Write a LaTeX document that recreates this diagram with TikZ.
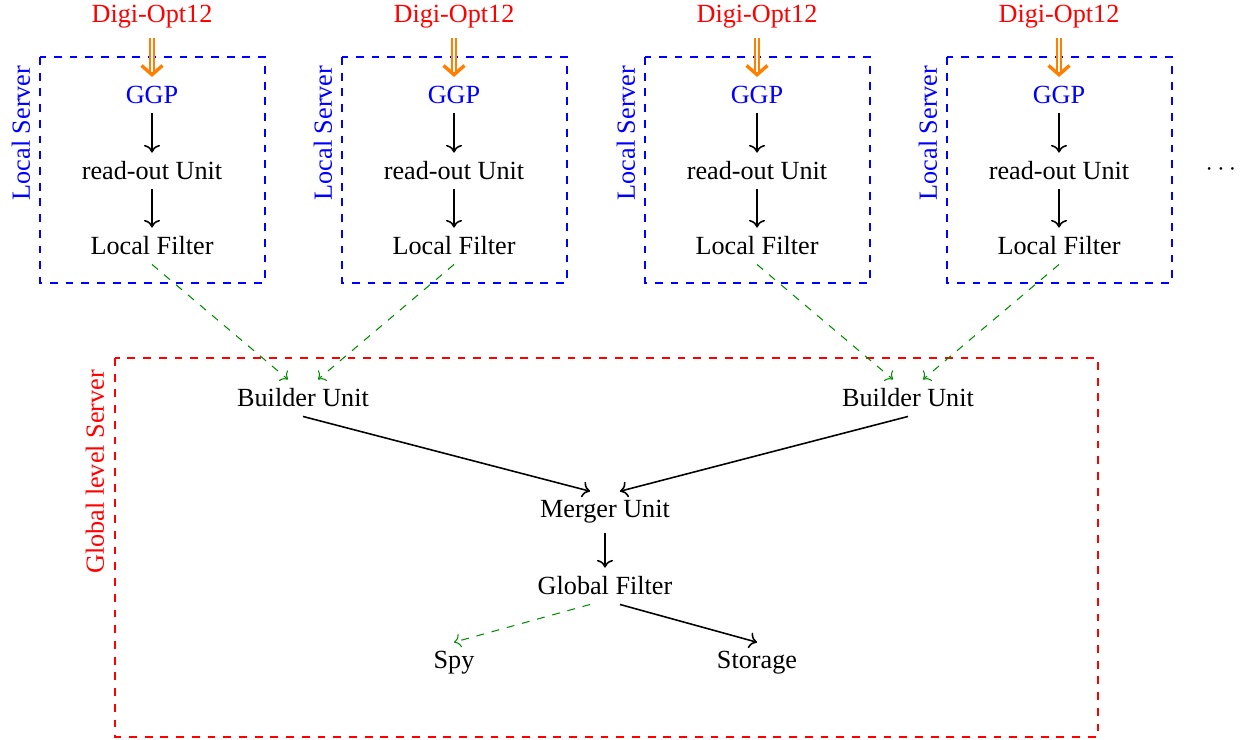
\documentclass[tikz,border=0pt]{standalone}
\usepackage{fontspec}
\setmainfont{Liberation Serif}
\usetikzlibrary{arrows.meta}
\begin{document}
\begin{tikzpicture}[x=0.3817pt,y=-0.3817pt,
  lbl/.style={inner sep=3.33pt},
  flow/.style={->,semithick},
  soft/.style={->,dashed,green!55!black},
  feed/.style={draw=orange,double=white,double distance=1.1pt,line width=0.55pt,
    -{Straight Barb[length=3.5pt,width=8pt,line width=1.3pt]}},
  localbox/.style={draw=blue,dashed},
  globalbox/.style={draw=red,dashed}]
\useasboundingbox (0,0) rectangle (1254,740);
\foreach \i/\x in {1/152,2/454,3/757,4/1059}{
  \node[lbl,text=red] (dig\i) at (\x,17) {Digi-Opt12};
  \node[lbl,text=blue] (ggp\i) at (\x,95) {GGP};
  \node[lbl] (ro\i) at (\x,171) {read-out Unit};
  \node[lbl] (lf\i) at (\x,246) {Local Filter};
  \draw[localbox] (\x-112,57) rectangle (\x+113,283);
  \node[lbl,text=blue,rotate=90] (ls\i) at (\x-131,133) {Local Server};
  \draw[feed] (dig\i.south) -- (ggp\i.north);
  \draw[flow] (ggp\i) -- (ro\i);
  \draw[flow] (ro\i) -- (lf\i);
}
\node[lbl] (dots) at (1221,170) {$\cdots$};
\draw[globalbox] (115,358) rectangle (1098,737);
\node[lbl,text=red,rotate=90] (gls) at (95,472) {Global level Server};
\node[lbl] (bu1) at (303,398) {Builder Unit};
\node[lbl] (bu2) at (908,398) {Builder Unit};
\node[lbl] (mu) at (605,512) {Merger Unit};
\node[lbl] (gf) at (605,586) {Global Filter};
\node[lbl] (spy) at (454,663) {Spy};
\node[lbl] (st) at (757,663) {Storage};
\draw[soft] (lf1.south) -- ([xshift=-5.7pt]bu1.north);
\draw[soft] (lf2.south) -- ([xshift=5.7pt]bu1.north);
\draw[soft] (lf3.south) -- ([xshift=-5.7pt]bu2.north);
\draw[soft] (lf4.south) -- ([xshift=5.7pt]bu2.north);
\draw[flow] (bu1.south) -- ([xshift=-5.7pt]mu.north);
\draw[flow] (bu2.south) -- ([xshift=5.7pt]mu.north);
\draw[flow] (mu) -- (gf);
\draw[soft] ([xshift=-5.7pt]gf.south) -- (spy.north);
\draw[flow] ([xshift=5.7pt]gf.south) -- (st.north);
\end{tikzpicture}
\end{document}
